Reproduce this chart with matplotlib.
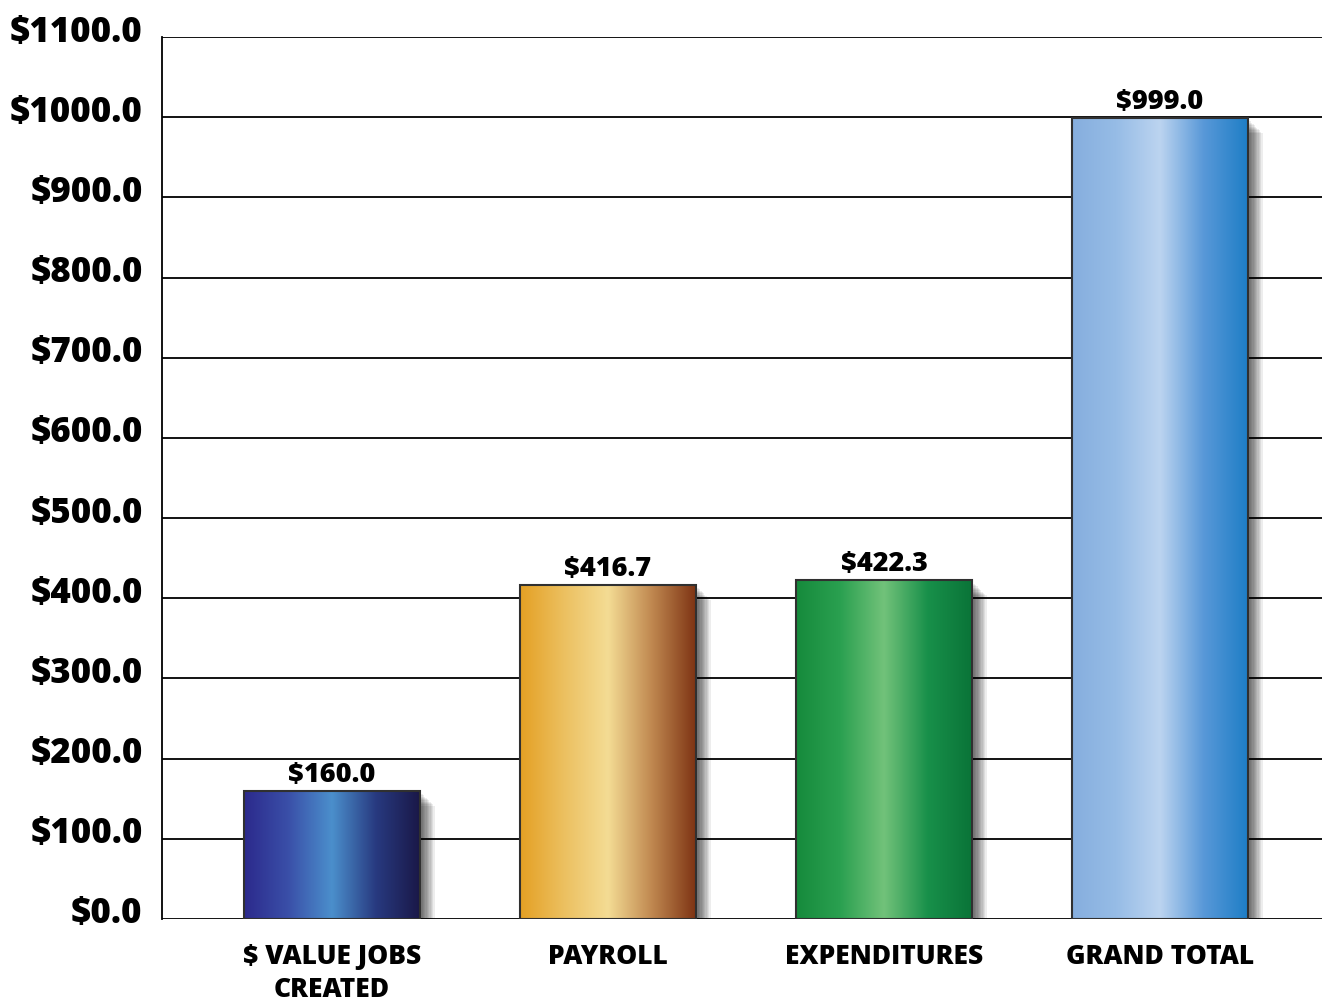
import numpy as np
import matplotlib
matplotlib.use("Agg")
import matplotlib.pyplot as plt
from matplotlib.patches import Rectangle
from matplotlib.colors import LinearSegmentedColormap
import matplotlib.transforms as mtransforms

# data
categories = ["$ VALUE JOBS\nCREATED", "PAYROLL", "EXPENDITURES", "GRAND TOTAL"]
values = [160.0, 416.7, 422.3, 999.0]
value_labels = ["$160.0", "$416.7", "$422.3", "$999.0"]
y_ticks = list(range(0, 1200, 100))
y_tick_labels = ["$%d.0" % v for v in y_ticks]

# gradient stops per bar (left -> centre -> right)
bar_gradients = [
    ["#2c2a8c", "#3a4fa8", "#4b8fcc", "#283a80", "#1a1848"],
    ["#e4a024", "#ecc060", "#f4dc94", "#c08850", "#7e3414"],
    ["#168a3c", "#2aa050", "#72c27a", "#18904a", "#0a7438"],
    ["#86aede", "#96bce6", "#bcd4f0", "#5898d8", "#1e7ec6"],
]

plt.rcParams['font.family'] = ['Open Sans', 'DejaVu Sans']

fig = plt.figure(figsize=(13.22, 10.03), dpi=100)
ax = fig.add_axes([0.1225, 0.0828, 0.8775, 0.8792])

width = 0.635
x = np.arange(len(categories))
ax.set_xlim(-0.616, 3.587)
ax.set_ylim(0, 1100)

# grid lines
for v in y_ticks:
    ax.axhline(v, color="black", lw=1.3, zorder=1)
for s in ["top", "right", "bottom"]:
    ax.spines[s].set_visible(False)
ax.spines["left"].set_linewidth(1.3)
ax.spines["left"].set_zorder(5)

grad = np.linspace(0, 1, 256).reshape(1, -1)
for i, (xi, val) in enumerate(zip(x, values)):
    left = xi - width / 2
    # soft drop shadow
    for k in range(1, 11):
        off = mtransforms.offset_copy(ax.transData, fig=fig, x=2 + k * 1.3, y=-(2 + k * 1.3), units="dots")
        ax.add_patch(Rectangle((left, 0), width, val, transform=off,
                               facecolor="black", edgecolor="none", alpha=0.07, zorder=2))
    cmap = LinearSegmentedColormap.from_list("g%d" % i, bar_gradients[i])
    im = ax.imshow(grad, cmap=cmap, aspect="auto", extent=(left, left + width, 0, val),
                   zorder=3, interpolation="bicubic")
    rect = Rectangle((left, 0), width, val, facecolor="none", edgecolor="#303030",
                     lw=1.5, zorder=4)
    ax.add_patch(rect)
    im.set_clip_path(rect)
    ax.annotate(value_labels[i], (xi, val), xytext=(0, 3), textcoords="offset points",
                ha="center", va="bottom", fontsize=19.5, fontweight=800, zorder=6)

ax.set_xticks(x)
ax.set_xticklabels(categories, fontsize=19, fontweight=800, linespacing=1.35)
ax.tick_params(axis="x", length=0, pad=17)
ax.set_yticks(y_ticks)
ax.set_yticklabels(y_tick_labels, fontsize=25, fontweight=800)
ax.tick_params(axis="y", length=0, pad=14)
shift = mtransforms.ScaledTranslation(0, 10 / 100, fig.dpi_scale_trans)
for lab in ax.get_yticklabels():
    lab.set_transform(lab.get_transform() + shift)

fig.savefig("out.png", dpi=100)
